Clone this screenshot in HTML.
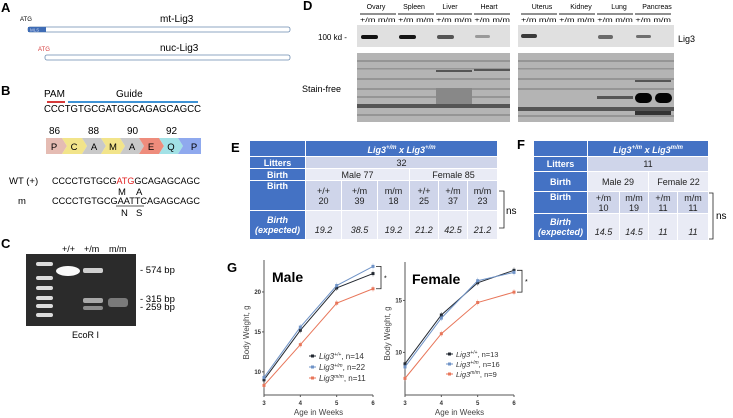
<!DOCTYPE html>
<html><head><meta charset="utf-8">
<style>
body{margin:0;background:#fff;}
#root{position:relative;width:733px;height:418px;overflow:hidden;font-family:"Liberation Sans",sans-serif;}
svg{position:absolute;left:0;top:0;}
table{position:absolute;border-collapse:collapse;font-family:"Liberation Sans",sans-serif;font-size:9px;table-layout:fixed;}
td{padding:0;text-align:center;border:1px solid #fff;color:#222;line-height:10px;}
td.h{background:#4472c4;color:#fff;font-weight:bold;}
td.l{background:#cfd5ea;}
td.m{background:#e9ebf5;}
td i{font-style:italic;}
</style></head><body>
<div id="root">
<svg width="733" height="418" font-family="Liberation Sans, sans-serif">
 <g>
  <text x="1" y="12" font-size="13" font-weight="bold">A</text>
  <text x="20" y="21" font-size="6">ATG</text>
  <text x="160" y="22" font-size="10">mt-Lig3</text>
  <rect x="28" y="27" width="262" height="5" rx="2" fill="#fff" stroke="#6b8bb0" stroke-width="0.8"/>
  <rect x="28" y="27" width="18" height="5" fill="#3f6cb5"/>
  <text x="30" y="31.5" font-size="4.5" fill="#cfd8ef">MLS</text>
  <text x="38" y="51" font-size="6" fill="#d63a3a">ATG</text>
  <text x="160" y="51" font-size="10">nuc-Lig3</text>
  <rect x="45" y="55" width="245" height="5" rx="2" fill="#fff" stroke="#6b8bb0" stroke-width="0.8"/>
 </g>
 <g>
  <text x="1" y="95" font-size="13" font-weight="bold">B</text>
  <text x="44" y="97" font-size="10">PAM</text>
  <text x="116" y="97" font-size="10">Guide</text>
  <rect x="47" y="101" width="18" height="2" fill="#d63a3a"/>
  <rect x="68" y="101" width="130" height="2" fill="#3e93d6"/>
  <text x="44" y="112" font-size="10.5" textLength="157" lengthAdjust="spacingAndGlyphs">CCCTGTGCGATGGCAGAGCAGCC</text>
  <text x="49" y="134" font-size="10">86</text>
  <text x="88" y="134" font-size="10">88</text>
  <text x="127" y="134" font-size="10">90</text>
  <text x="166" y="134" font-size="10">92</text>
  <g font-size="9.5" text-anchor="middle">
   <polygon points="46,138 62,138 67,146 62,154 46,154" fill="#e5bcb3"/>
   <polygon points="62,138 82,138 87,146 82,154 62,154 67,146" fill="#f2e48a"/>
   <polygon points="82,138 101,138 106,146 101,154 82,154 87,146" fill="#c9c9c9"/>
   <polygon points="101,138 120,138 125,146 120,154 101,154 106,146" fill="#f2e48a"/>
   <polygon points="120,138 139,138 144,146 139,154 120,154 125,146" fill="#c9c9c9"/>
   <polygon points="139,138 159,138 164,146 159,154 139,154 144,146" fill="#ee8c7c"/>
   <polygon points="159,138 178,138 183,146 178,154 159,154 164,146" fill="#a2e1e6"/>
   <polygon points="178,138 201,138 201,154 178,154 183,146" fill="#8fa9ee"/>
   <text x="54" y="150">P</text><text x="74" y="150">C</text><text x="94" y="150">A</text>
   <text x="113" y="150">M</text><text x="132" y="150">A</text><text x="151" y="150">E</text>
   <text x="171" y="150">Q</text><text x="194" y="150">P</text>
  </g>
  <text x="9" y="184" font-size="9.5">WT (+)</text>
  <text x="52" y="184" font-size="9.5" textLength="148" lengthAdjust="spacingAndGlyphs">CCCCTGTGCG<tspan fill="#e02020">ATG</tspan>GCAGAGCAGC</text>
  <text x="118" y="195" font-size="9.5">M</text><text x="136" y="195" font-size="9.5">A</text>
  <text x="18" y="204" font-size="9.5">m</text>
  <text x="52" y="204" font-size="9.5" textLength="148" lengthAdjust="spacingAndGlyphs">CCCCTGTGCGAATTCAGAGCAGC</text>
  <line x1="116" y1="206" x2="144" y2="206" stroke="#222" stroke-width="0.7"/>
  <text x="121" y="216" font-size="9.5">N</text><text x="136" y="216" font-size="9.5">S</text>
 </g>
 <g>
  <text x="1" y="248" font-size="13" font-weight="bold">C</text>
  <text x="62" y="252" font-size="9">+/+</text><text x="84" y="252" font-size="9">+/m</text><text x="109" y="252" font-size="9">m/m</text>
  <rect x="26" y="254" width="110" height="72" fill="#2b2b2b"/>
  <g fill="#dcdcdc">
   <rect x="36" y="262" width="17" height="4" rx="2"/><rect x="36" y="276" width="17" height="4" rx="2"/>
   <rect x="36" y="286" width="17" height="4" rx="2"/><rect x="36" y="296" width="17" height="4" rx="2"/>
   <rect x="36" y="304" width="17" height="4" rx="2"/><rect x="36" y="313" width="17" height="4" rx="2"/>
  </g>
  <ellipse cx="68" cy="271" rx="12" ry="5" fill="#fafafa"/>
  <rect x="83" y="268" width="20" height="5" rx="2" fill="#cfcfcf"/>
  <rect x="83" y="298" width="20" height="5" rx="2" fill="#a8a8a8"/>
  <rect x="83" y="306" width="20" height="4" rx="2" fill="#8c8c8c"/>
  <rect x="108" y="298" width="20" height="9" rx="3" fill="#7a7a7a"/>
  <text x="140" y="273" font-size="9.5">- 574 bp</text>
  <text x="140" y="302" font-size="9.5">- 315 bp</text>
  <text x="140" y="310" font-size="9.5">- 259 bp</text>
  <text x="72" y="338" font-size="9">EcoR I</text>
 </g>
 <g font-size="6.5">
  <text x="303" y="10" font-size="13" font-weight="bold">D</text>
  <g font-size="7" text-anchor="middle">
   <text x="376" y="9">Ovary</text><text x="414" y="9">Spleen</text><text x="450" y="9">Liver</text><text x="489" y="9">Heart</text>
   <text x="542" y="9">Uterus</text><text x="581" y="9">Kidney</text><text x="619" y="9">Lung</text><text x="657" y="9">Pancreas</text>
  </g>
  <g stroke="#222" stroke-width="1">
   <line x1="360" y1="14" x2="396" y2="14"/><line x1="398" y1="14" x2="434" y2="14"/><line x1="436" y1="14" x2="472" y2="14"/><line x1="474" y1="14" x2="510" y2="14"/>
   <line x1="521" y1="14" x2="557" y2="14"/><line x1="559" y1="14" x2="595" y2="14"/><line x1="597" y1="14" x2="633" y2="14"/><line x1="635" y1="14" x2="671" y2="14"/>
  </g>
  <text x="360" y="22" font-size="6" textLength="150" lengthAdjust="spacingAndGlyphs">+/m  m/m  +/m  m/m  +/m  m/m  +/m  m/m</text>
  <text x="521" y="22" font-size="6" textLength="150" lengthAdjust="spacingAndGlyphs">+/m  m/m  +/m  m/m  +/m  m/m  +/m  m/m</text>
  <rect x="357" y="25" width="153" height="22" fill="#e0e0e0"/>
  <rect x="518" y="25" width="156" height="22" fill="#e0e0e0"/>
  <g>
   <rect x="361" y="35" width="17" height="4" rx="2" fill="#111"/>
   <rect x="399" y="35" width="17" height="4" rx="2" fill="#151515"/>
   <rect x="437" y="35" width="17" height="4" rx="2" fill="#555"/>
   <rect x="475" y="35" width="15" height="3" rx="1.5" fill="#999"/>
   <rect x="521" y="34" width="16" height="4" rx="2" fill="#3a3a3a"/>
   <rect x="598" y="35" width="15" height="4" rx="2" fill="#6a6a6a"/>
   <rect x="636" y="35" width="15" height="3" rx="1.5" fill="#6e6e6e"/>
  </g>
  <text x="318" y="40" font-size="8">100 kd -</text>
  <text x="678" y="42" font-size="9">Lig3</text>
  <rect x="357" y="53" width="153" height="69" fill="#b4b4b4"/>
  <rect x="518" y="53" width="156" height="69" fill="#b4b4b4"/>
  <g fill="#959595">
   <rect x="357" y="60" width="153" height="2"/><rect x="357" y="68" width="153" height="1.5"/><rect x="357" y="78" width="153" height="2"/><rect x="357" y="88" width="153" height="2"/><rect x="357" y="96" width="153" height="2"/><rect x="357" y="114" width="153" height="2"/>
   <rect x="518" y="60" width="156" height="2"/><rect x="518" y="68" width="156" height="1.5"/><rect x="518" y="78" width="156" height="2"/><rect x="518" y="88" width="156" height="2"/><rect x="518" y="115" width="156" height="2"/>
  </g>
  <g fill="#555">
   <rect x="357" y="104" width="153" height="4"/><rect x="518" y="107" width="156" height="4"/>
   <rect x="436" y="70" width="36" height="2"/><rect x="474" y="69" width="36" height="2"/>
   <rect x="597" y="96" width="36" height="3"/><rect x="635" y="80" width="36" height="2"/>
   <rect x="635" y="111" width="36" height="4" fill="#333"/>
  </g>
  <rect x="436" y="88" width="36" height="16" fill="#888"/>
  <rect x="635" y="93" width="17" height="10" rx="5" fill="#050505"/>
  <rect x="655" y="93" width="17" height="10" rx="5" fill="#050505"/>
  <text x="302" y="92" font-size="9">Stain-free</text>
 </g>
 <text x="231" y="152" font-size="13" font-weight="bold">E</text>
 <text x="517" y="149" font-size="13" font-weight="bold">F</text>
 <text x="227" y="272" font-size="13" font-weight="bold">G</text>
 <g stroke="#222" stroke-width="0.8" fill="none">
  <polyline points="499,191 504,191 504,228 499,228"/>
  <polyline points="708,193 713,193 713,239 708,239"/>
 </g>
 <text x="506" y="214" font-size="10">ns</text>
 <text x="716" y="219" font-size="10">ns</text>
 <g id="charts"></g>
</svg>

<table style="left:249px;top:140px;width:248px;">
 <colgroup><col style="width:56px"><col style="width:36px"><col style="width:36px"><col style="width:32px"><col style="width:29px"><col style="width:29px"><col style="width:30px"></colgroup>
 <tr style="height:16px"><td class="h"></td><td class="h" colspan="6"><i>Lig3<sup style="font-size:6px">+/m</sup> x Lig3<sup style="font-size:6px">+/m</sup></i></td></tr>
 <tr style="height:12px"><td class="h">Litters</td><td class="l" colspan="6">32</td></tr>
 <tr style="height:12px"><td class="h">Birth</td><td class="m" colspan="3">Male 77</td><td class="m" colspan="3">Female 85</td></tr>
 <tr style="height:30px"><td class="h" style="vertical-align:top">Birth</td><td class="l">+/+<br>20</td><td class="l">+/m<br>39</td><td class="l">m/m<br>18</td><td class="l">+/+<br>25</td><td class="l">+/m<br>37</td><td class="l">m/m<br>23</td></tr>
 <tr style="height:29px"><td class="h"><i>Birth<br>(expected)</i></td><td class="m"><i><br>19.2</i></td><td class="m"><i><br>38.5</i></td><td class="m"><i><br>19.2</i></td><td class="m"><i><br>21.2</i></td><td class="m"><i><br>42.5</i></td><td class="m"><i><br>21.2</i></td></tr>
</table>

<table style="left:533px;top:140px;width:175px;">
 <colgroup><col style="width:54px"><col style="width:32px"><col style="width:29px"><col style="width:29px"><col style="width:31px"></colgroup>
 <tr style="height:16px"><td class="h"></td><td class="h" colspan="4"><i>Lig3<sup style="font-size:6px">+/m</sup> x Lig3<sup style="font-size:6px">m/m</sup></i></td></tr>
 <tr style="height:15px"><td class="h">Litters</td><td class="l" colspan="4">11</td></tr>
 <tr style="height:20px"><td class="h">Birth</td><td class="m" colspan="2">Male 29</td><td class="m" colspan="2">Female 22</td></tr>
 <tr style="height:22px"><td class="h" style="vertical-align:top">Birth</td><td class="l">+/m<br>10</td><td class="l">m/m<br>19</td><td class="l">+/m<br>11</td><td class="l">m/m<br>11</td></tr>
 <tr style="height:27px"><td class="h"><i>Birth<br>(expected)</i></td><td class="m"><i><br>14.5</i></td><td class="m"><i><br>14.5</i></td><td class="m"><i><br>11</i></td><td class="m"><i><br>11</i></td></tr>
</table>
</div>
<script>
const weeks = [3, 4, 5, 6];
const maleWT = [9.0, 15.2, 20.5, 22.3];
const maleHet = [9.3, 15.6, 20.8, 23.2];
const maleMut = [8.3, 13.4, 18.6, 20.4];
const femaleWT = [8.9, 13.6, 16.7, 17.9];
const femaleHet = [8.6, 13.3, 16.9, 17.7];
const femaleMut = [7.5, 11.8, 14.8, 15.8];
const maleTicks = [10, 15, 20];
const femaleTicks = [10, 15];
const maleLegend = ["n=14", "n=22", "n=11"];
const femaleLegend = ["n=13", "n=16", "n=9"];

const NS = "http://www.w3.org/2000/svg";
const root = document.getElementById('charts');
function mk(tag, attrs, parent){
  const e = document.createElementNS(NS, tag);
  for (const k in attrs) e.setAttribute(k, attrs[k]);
  (parent || root).appendChild(e);
  return e;
}
const colors = ["#222831", "#6f93c7", "#e8765a"];
const sups = ["+/+", "+/m", "m/m"];

function chart(cfg){
  const g = mk('g', {});
  
  
  const sx = v => cfg.x0 + (v - 3) / 3 * (cfg.x1 - cfg.x0);
  const sy = v => cfg.yb - (v - cfg.vmin) / (cfg.vmax - cfg.vmin) * (cfg.yb - cfg.yt);
  const ax = mk('path', {d:`M${cfg.x0},${cfg.yt} L${cfg.x0},${cfg.yb} L${cfg.x1},${cfg.yb}`, stroke:'#555', 'stroke-width':1, fill:'none'}, g);
  
  
  weeks.forEach(w => {
    mk('line', {x1:sx(w), x2:sx(w), y1:cfg.yb, y2:cfg.yb+2, stroke:'#555'}, g);
    const t = mk('text', {x:sx(w), y:cfg.yb+10, 'font-size':6, 'font-weight':'bold', 'text-anchor':'middle', fill:'#333'}, g);
    t.textContent = w;
  });
  cfg.ticks.forEach(v => {
    mk('line', {x1:cfg.x0-2, x2:cfg.x0, y1:sy(v), y2:sy(v), stroke:'#555'}, g);
    const t = mk('text', {x:cfg.x0-3, y:sy(v)+2, 'font-size':6, 'font-weight':'bold', 'text-anchor':'end', fill:'#333'}, g);
    t.textContent = v;
  });
  const xt = mk('text', {x:(cfg.x0+cfg.x1)/2, y:cfg.yb+20, 'font-size':8, 'text-anchor':'middle', fill:'#444'}, g);
  xt.textContent = 'Age in Weeks';
  
  
  const yt = mk('text', {x:0, y:0, 'font-size':8, 'text-anchor':'middle', fill:'#444', transform:`translate(${cfg.x0-15},${(cfg.yt+cfg.yb)/2+5}) rotate(-90)`}, g);
  yt.textContent = 'Body Weight, g';
  
  
  const tt = mk('text', {x:cfg.titleX, y:cfg.yt+22, 'font-size':14, 'font-weight':'bold'}, g);
  tt.textContent = cfg.title;
  
  
  cfg.series.forEach((s, i) => {
    const pts = weeks.map((w, j) => sx(w) + ',' + sy(s[j])).join(' ');
    const pl = mk('polyline', {points:pts, fill:'none', stroke:colors[i], 'stroke-width':1}, g);
    
    
    weeks.forEach((w, j) => {
      mk('line', {x1:sx(w), x2:sx(w), y1:sy(s[j])-3, y2:sy(s[j])+3, stroke:colors[i], 'stroke-width':0.5, opacity:0.6}, g);
      const p = mk('rect', {x:sx(w)-1.5, y:sy(s[j])-1.5, width:3, height:3, fill:colors[i]}, g);
      
      
    });
  });
  const top = Math.max(...cfg.series.map(s => s[3])), bot = cfg.series[2][3];
  mk('polyline', {points:`${cfg.x1+3},${sy(top)} ${cfg.x1+8},${sy(top)} ${cfg.x1+8},${sy(bot)} ${cfg.x1+3},${sy(bot)}`, fill:'none', stroke:'#222', 'stroke-width':0.8}, g);
  const st = mk('text', {x:cfg.x1+11, y:(sy(top)+sy(bot))/2+3, 'font-size':7}, g);
  st.textContent = '*';
  cfg.legend.forEach((n, i) => {
    const y = cfg.ly + i * cfg.lstep;
    const lg = mk('g', {}, g);
    
    
    mk('line', {x1:cfg.lx, x2:cfg.lx+7, y1:y-2, y2:y-2, stroke:colors[i]}, lg);
    mk('rect', {x:cfg.lx+2, y:y-3.5, width:3, height:3, fill:colors[i]}, lg);
    const t = mk('text', {x:cfg.lx+10, y:y+1, 'font-size':cfg.lfs, fill:'#333'}, lg);
    t.innerHTML = '<tspan font-style="italic">Lig3</tspan><tspan font-size="5" dy="-3" font-style="italic">' + sups[i] + '</tspan><tspan dy="3">, ' + n + '</tspan>';
  });
}
chart({name:'male-chart', title:'Male', titleX:272, x0:264, x1:373, yt:260, yb:395, vmin:7.1, vmax:24, ticks:maleTicks,
  series:[maleWT, maleHet, maleMut], legend:maleLegend, lx:309, ly:358, lstep:11, lfs:8});
chart({name:'female-chart', title:'Female', titleX:412, x0:405, x1:514, yt:262, yb:395, vmin:5.9, vmax:18.7, ticks:femaleTicks,
  series:[femaleWT, femaleHet, femaleMut], legend:femaleLegend, lx:446, ly:356, lstep:10, lfs:7.5});
</script>
</body></html>
